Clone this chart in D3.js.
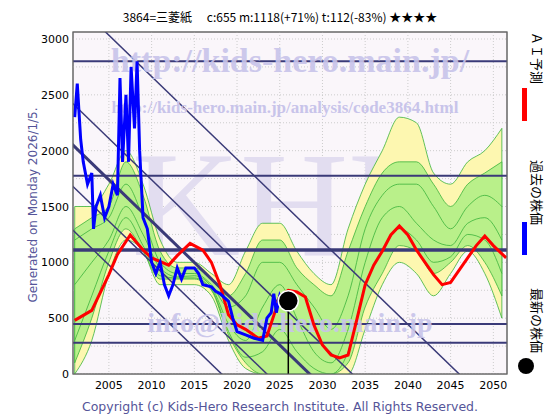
<!DOCTYPE html><html><head><meta charset="utf-8">
<script src="https://cdn.jsdelivr.net/npm/d3@7"></script>
<style>body{margin:0;background:#fff}</style></head><body>
<svg id="c" width="560" height="420"></svg>
<script>
const title = "3864=三菱紙　 c:655  m:1118(+71%)  t:112(-83%)  ★★★★";
const xTicks = [2005,2010,2015,2020,2025,2030,2035,2040,2045,2050];
const yTicks = [0,500,1000,1500,2000,2500,3000];
const hLines = [2800,1775,448,280];
const hThick = 1110;
const diagBottomYears = [2018.2,2023.5,2033.5,2046];
const diagThickYear = 2028.5;
const bandYears = [2001,2003,2005,2007,2009,2011,2013,2015,2017,2019,2021,2023,2025,2027,2029,2031,2033,2035,2037,2039,2041,2043,2045,2047,2049,2051];
const yellowHi = [1500,1500,1700,2000,1700,1200,1000,1000,900,800,1100,1350,1350,1100,900,800,1300,1700,2000,2300,2250,1800,1700,1900,2000,2200];
const yellowLo = [0,300,900,1200,1100,800,800,800,700,300,50,0,0,0,0,0,0,400,800,1000,900,700,900,1100,900,500];
const greenHi = [1300,1400,1500,1900,1600,1100,950,950,850,700,900,1200,1200,950,800,700,1100,1500,1800,1900,1900,1700,1500,1700,1800,1900];
const greenLo = [100,500,1000,1300,1100,850,850,850,750,350,100,0,0,0,0,0,100,600,900,1150,1100,900,1000,1150,1000,700];
const greenLines = [
 [1200,1300,1400,1700,1400,1000,900,900,800,600,700,1000,1000,800,600,400,700,1300,1600,1700,1700,1500,1300,1500,1600,1500],
 [800,1000,1200,1500,1250,950,870,880,780,450,300,600,800,500,200,100,400,1000,1400,1500,1350,1200,1150,1350,1400,1200],
 [300,700,1100,1400,1150,880,860,860,760,380,150,200,400,200,50,0,200,800,1100,1300,1200,1000,1050,1250,1200,900]];
const redYears = [2001,2003,2005,2006,2007.5,2009,2010,2012,2013,2014.5,2016,2017,2018,2019,2020,2021,2022.5,2023.5,2024.5,2025,2026,2027,2028,2029,2030,2031,2032,2033,2034,2035,2036,2037,2038,2039,2040,2041,2042,2043,2044,2045,2046,2047,2048,2049,2050,2051.5];
const redVals = [480,570,890,1070,1245,1110,1040,975,1060,1170,1110,1000,800,530,440,400,320,340,570,700,750,735,690,440,260,170,143,170,480,800,975,1100,1245,1325,1245,1110,1000,890,800,820,930,1040,1150,1235,1150,1040];
const blueYears = [2001,2001.3,2001.7,2002,2002.5,2003,2003.2,2003.5,2004,2004.5,2005,2005.5,2006,2006.3,2006.6,2007,2007.3,2007.6,2008,2008.3,2008.6,2009,2009.5,2010,2010.5,2011,2011.5,2012,2012.5,2013,2013.5,2014,2015,2015.5,2016,2017,2017.5,2018,2019,2019.5,2020,2021,2022,2023,2023.5,2024,2024.3,2024.6,2025,2025.3];
const blueVals = [2300,2600,2100,1900,1700,1800,1300,1500,1600,1400,1500,1700,1600,2650,1900,2500,1900,2750,2200,2800,2000,1400,1300,1000,900,1000,800,700,800,950,850,950,950,900,800,780,740,720,650,500,380,350,320,300,500,550,720,550,700,650];
const latest = {year:2026, value:655};

const svg = d3.select("#c");
const x = d3.scaleLinear().domain([2000.8,2051.6]).range([73,507]);
const y = d3.scaleLinear().domain([0,3000]).range([374,39]);
const pTop = 32;
svg.append("defs").append("clipPath").attr("id","cp").append("rect").attr("x",73).attr("y",pTop).attr("width",434).attr("height",374-pTop);
svg.append("rect").attr("x",73).attr("y",pTop).attr("width",434).attr("height",374-pTop).attr("fill","#faf6fa").attr("stroke","#666");
const g = svg.append("g").attr("clip-path","url(#cp)");
xTicks.forEach(t=>g.append("line").attr("x1",x(t)).attr("x2",x(t)).attr("y1",pTop).attr("y2",374).attr("stroke","#ccc").attr("stroke-dasharray","1,2"));
d3.range(0,3001,250).forEach(t=>g.append("line").attr("x1",73).attr("x2",507).attr("y1",y(t)).attr("y2",y(t)).attr("stroke","#ccc").attr("stroke-dasharray","1,2"));
g.append("text").attr("x",290).attr("y",255).attr("text-anchor","middle").attr("font-family","Liberation Serif").attr("font-size",150).attr("fill","#e2ddf0").text("KHR");
const area=(hi,lo,fill)=>g.append("path").attr("d",d3.area().curve(d3.curveMonotoneX).x((d,i)=>x(bandYears[i])).y0((d,i)=>y(lo[i])).y1((d,i)=>y(hi[i]))(hi)).attr("fill",fill).attr("stroke","#3bb33b").attr("stroke-width",0.8);
area(yellowHi,yellowLo,"#fdf7b0");
area(greenHi,greenLo,"#b9f08a");
greenLines.forEach(a=>g.append("path").attr("d",d3.line().curve(d3.curveMonotoneX).x((d,i)=>x(bandYears[i])).y(d=>y(d))(a)).attr("fill","none").attr("stroke","#3bb33b").attr("stroke-width",0.8));
const slope=74;
const diag=(yb,w)=>g.append("line").attr("x1",x(yb-3100/slope)).attr("y1",y(3100)).attr("x2",x(yb+100/slope)).attr("y2",y(-100)).attr("stroke","#3a3a78").attr("stroke-width",w);
diagBottomYears.forEach(b=>diag(b,1.5));
diag(diagThickYear,3);
hLines.forEach(v=>g.append("line").attr("x1",73).attr("x2",507).attr("y1",y(v)).attr("y2",y(v)).attr("stroke","#3a3a78").attr("stroke-width",2));
g.append("line").attr("x1",73).attr("x2",507).attr("y1",y(hThick)).attr("y2",y(hThick)).attr("stroke","#3a3a78").attr("stroke-width",3.5);
g.append("text").attr("x",290).attr("y",72).attr("text-anchor","middle").attr("font-family","Liberation Serif").attr("font-weight","bold").attr("font-size",34).attr("fill","#c8c4ea").attr("opacity",0.9).text("http://kids-hero.main.jp/");
g.append("text").attr("x",285).attr("y",113).attr("text-anchor","middle").attr("font-family","Liberation Serif").attr("font-weight","bold").attr("font-size",17).attr("fill","#c8c4ea").text("http://kids-hero.main.jp/analysis/code3864.html");
g.append("text").attr("x",290).attr("y",332).attr("text-anchor","middle").attr("font-family","Liberation Serif").attr("font-weight","bold").attr("font-size",28).attr("fill","#c8c4ea").attr("opacity",0.9).text("info@kids-hero.main.jp");
g.append("path").attr("d",d3.line().x((d,i)=>x(redYears[i])).y(d=>y(d))(redVals)).attr("fill","none").attr("stroke","#ff0000").attr("stroke-width",3);
g.append("path").attr("d",d3.line().x((d,i)=>x(blueYears[i])).y(d=>y(d))(blueVals)).attr("fill","none").attr("stroke","#0000ff").attr("stroke-width",3);
g.append("line").attr("x1",x(latest.year)).attr("x2",x(latest.year)).attr("y1",y(latest.value)).attr("y2",374).attr("stroke","#000").attr("stroke-width",1.5);
g.append("circle").attr("cx",x(latest.year)).attr("cy",y(latest.value)).attr("r",10).attr("fill","#000").attr("stroke","#fff").attr("stroke-width",1.5);
svg.append("rect").attr("x",73).attr("y",pTop).attr("width",434).attr("height",374-pTop).attr("fill","none").attr("stroke","#666");
xTicks.forEach(t=>svg.append("text").attr("x",x(t)).attr("y",389).attr("text-anchor","middle").attr("font-family","DejaVu Sans").attr("font-size",11).text(t));
yTicks.forEach(t=>svg.append("text").attr("x",69).attr("y",y(t)+4).attr("text-anchor","end").attr("font-family","DejaVu Sans").attr("font-size",11).text(t));
svg.append("text").attr("x",280).attr("y",22).attr("text-anchor","middle").attr("font-family","Noto Sans CJK JP").attr("font-size",12).text(title);
svg.append("text").attr("x",280).attr("y",411).attr("text-anchor","middle").attr("font-family","DejaVu Sans").attr("font-size",12.5).attr("fill","#555599").text("Copyright (c) Kids-Hero Research Institute. All Rights Reserved.");
svg.append("text").attr("transform","translate(37,205) rotate(-90)").attr("text-anchor","middle").attr("font-family","DejaVu Sans").attr("font-size",12).attr("fill","#555599").text("Generated on Monday 2026/1/5.");
const leg=(t,yc,c)=>svg.append("text").attr("transform",`translate(532,${yc}) rotate(90)`).attr("font-family","Noto Sans CJK JP").attr("font-size",13).attr("fill",c).text(t);
leg("ＡＩ予測",32,"#000"); leg("過去の株価",160,"#000"); leg("最新の株価",288,"#000");
svg.append("rect").attr("x",522).attr("y",88).attr("width",5).attr("height",33).attr("fill","#ff0000");
svg.append("rect").attr("x",522).attr("y",222).attr("width",5).attr("height",33).attr("fill","#0000ff");
svg.append("circle").attr("cx",526).attr("cy",366).attr("r",8).attr("fill","#000");
</script></body></html>
